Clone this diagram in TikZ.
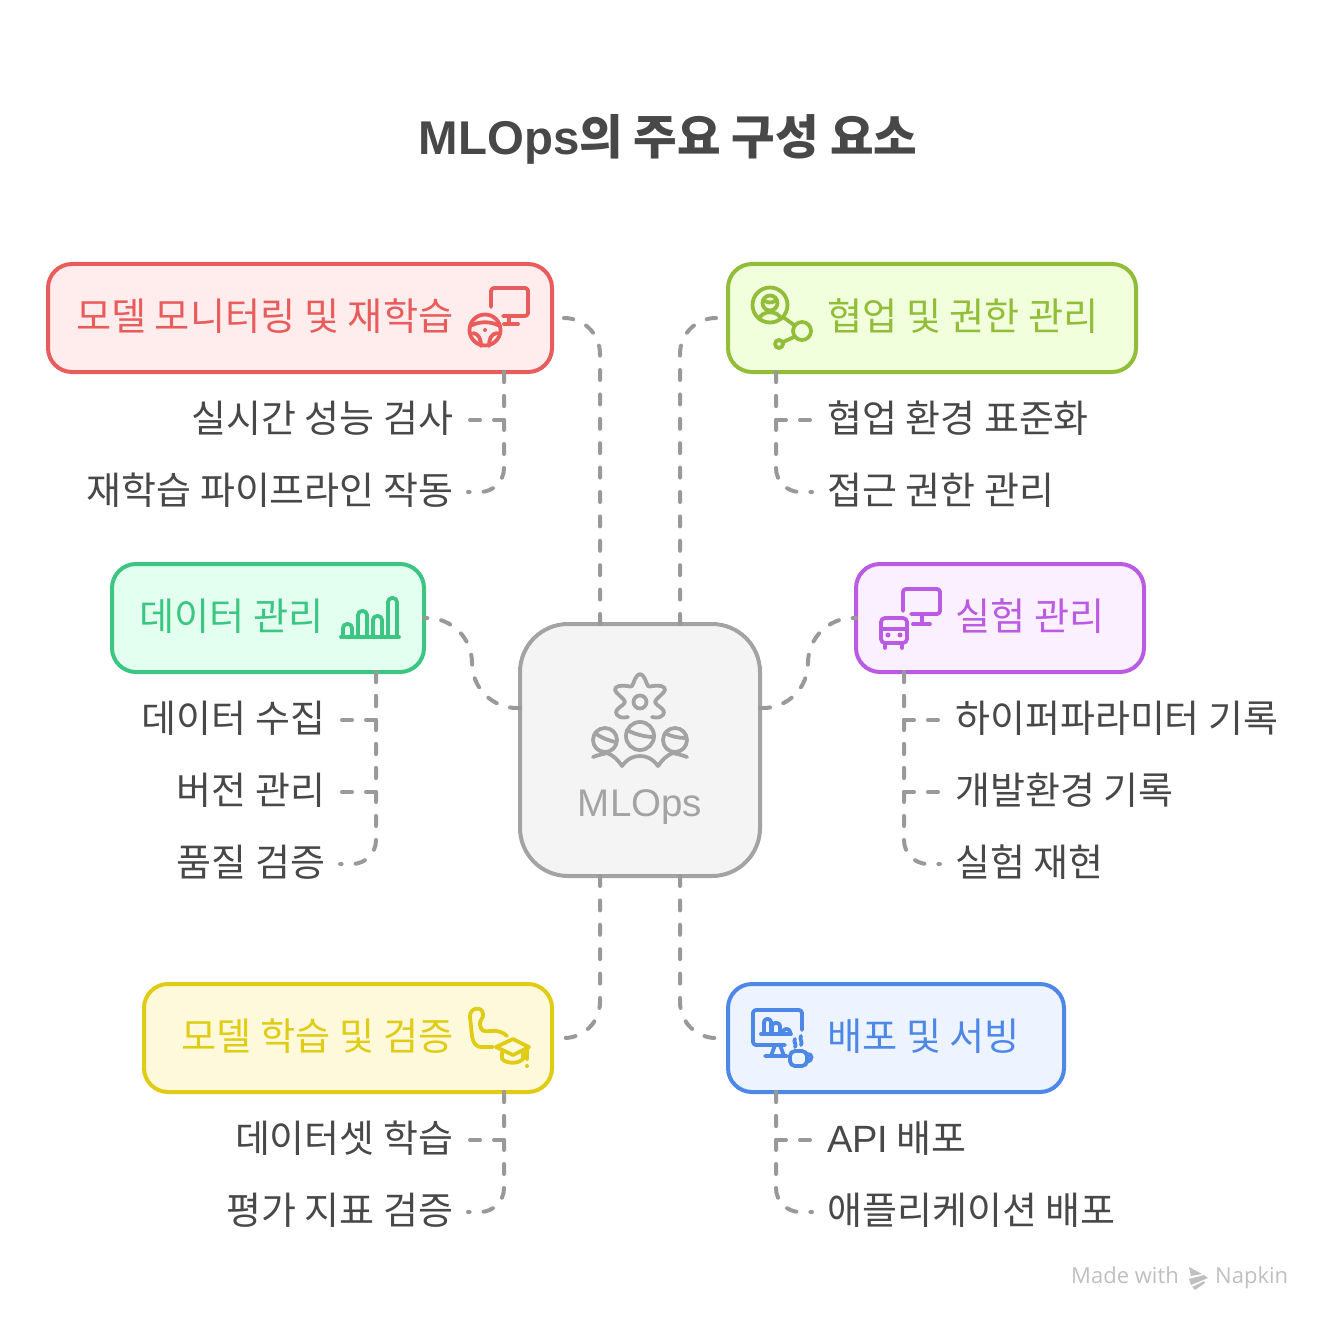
\documentclass[tikz,border=0pt]{standalone}
\usepackage{fontspec}
\usetikzlibrary{positioning,calc}
\setmainfont{Noto Sans CJK KR}
\newfontfamily\enfont{Liberation Sans}
\newfontfamily\footfont{Open Sans}
\definecolor{inkGrey}{HTML}{484848}
\definecolor{linkGrey}{HTML}{999999}
\definecolor{hubLine}{HTML}{A3A3A3}
\definecolor{hubFill}{HTML}{F4F4F4}
\definecolor{redLine}{HTML}{E85C5C}
\definecolor{redFill}{HTML}{FFEDED}
\definecolor{greenLine}{HTML}{92BD39}
\definecolor{greenFill}{HTML}{F2FFDD}
\definecolor{mintLine}{HTML}{3CC583}
\definecolor{mintFill}{HTML}{E3FFF0}
\definecolor{purpleLine}{HTML}{BB5BE3}
\definecolor{purpleFill}{HTML}{FBF0FF}
\definecolor{yellowLine}{HTML}{E0CB15}
\definecolor{yellowFill}{HTML}{FEF9DB}
\definecolor{blueLine}{HTML}{4E88E7}
\definecolor{blueFill}{HTML}{EDF3FF}

\begin{document}
\begin{tikzpicture}[x=1pt,y=-1pt]
\tikzstyle{block} = [rectangle, draw, line width=4pt, rounded corners=24pt, minimum height=108pt, outer sep=0pt, inner sep=0pt]
\tikzstyle{hub} = [block, draw=hubLine, fill=hubFill, rounded corners=48pt, minimum width=240pt, minimum height=252pt]
\tikzstyle{head} = [font=\fontsize{38.2}{44}\selectfont, inner sep=0pt, text height=30pt, text depth=4.5pt]
\tikzstyle{leaf} = [head, font=\fontsize{38}{44}\selectfont, text=inkGrey]
\tikzstyle{foot} = [font=\footfont\fontsize{22}{26}\selectfont, text=black!25, inner sep=0pt, anchor=west, text height=16pt, text depth=3pt]
\tikzstyle{link} = [draw=linkGrey, line width=4pt, line cap=round, dash pattern=on 10pt off 14pt]
\tikzstyle{mainlink} = [link, rounded corners=36pt, dash pattern=on 10pt off 14.4pt]
\tikzstyle{icon} = [line width=3.8pt, line cap=round, line join=round]
\useasboundingbox (0,0) rectangle (1336,1332);

\node [font=\bfseries\fontsize{47.4}{56}\selectfont, text=inkGrey, inner sep=0pt] (title) at (668,139) {{\enfont MLOps}의 주요 구성 요소};

% Center box
\node [hub] (hubBox) at (640,750) {};
\node [font=\enfont\fontsize{38.5}{44}\selectfont, text=hubLine, inner sep=0pt] (hubText) at (640,807) {MLOps};

% Outer boxes
\node [block, draw=redLine, fill=redFill, minimum width=504pt] (monitorBox) at (300,318) {};
\node [block, draw=greenLine, fill=greenFill, minimum width=408pt] (teamBox) at (932,318) {};
\node [block, draw=mintLine, fill=mintFill, minimum width=312pt] (dataBox) at (268,618) {};
\node [block, draw=purpleLine, fill=purpleFill, minimum width=288pt] (trialBox) at (1000,618) {};
\node [block, draw=yellowLine, fill=yellowFill, minimum width=408pt] (trainBox) at (348,1038) {};
\node [block, draw=blueLine, fill=blueFill, minimum width=336pt] (serveBox) at (896,1038) {};

\node [head, text=redLine, anchor=east] (monitorText) at ([xshift=-98.5pt]monitorBox.east) {모델 모니터링 및 재학습};
\node [head, text=greenLine, anchor=west] (teamText) at ([xshift=99pt]teamBox.west) {협업 및 권한 관리};
\node [head, text=mintLine, anchor=east] (dataText) at ([xshift=-100pt]dataBox.east) {데이터 관리};
\node [head, text=purpleLine, anchor=west] (trialText) at ([xshift=99pt]trialBox.west) {실험 관리};
\node [head, text=yellowLine, anchor=east] (trainText) at ([xshift=-98.5pt]trainBox.east) {모델 학습 및 검증};
\node [head, text=blueLine, anchor=west] (serveText) at ([xshift=99pt]serveBox.west) {배포 및 서빙};

% Leaves
\node [leaf, anchor=east] (liveCheck) at ([xshift=-98.5pt,yshift=-102pt]monitorBox.east) {실시간 성능 검사};
\node [leaf, anchor=east] (retrain) at ([yshift=-72pt]liveCheck.east) {재학습 파이프라인 작동};
\node [leaf, anchor=west] (teamEnv) at ([xshift=99pt,yshift=-102pt]teamBox.west) {협업 환경 표준화};
\node [leaf, anchor=west] (access) at ([yshift=-72pt]teamEnv.west) {접근 권한 관리};
\node [leaf, anchor=east] (collect) at ([xshift=-98.5pt,yshift=-102pt]dataBox.east) {데이터 수집};
\node [leaf, anchor=east] (version) at ([yshift=-72pt]collect.east) {버전 관리};
\node [leaf, anchor=east] (quality) at ([yshift=-72pt]version.east) {품질 검증};
\node [leaf, anchor=west] (hyper) at ([xshift=99pt,yshift=-102pt]trialBox.west) {하이퍼파라미터 기록};
\node [leaf, anchor=west] (devEnv) at ([yshift=-72pt]hyper.west) {개발환경 기록};
\node [leaf, anchor=west] (rerun) at ([yshift=-72pt]devEnv.west) {실험 재현};
\node [leaf, anchor=east] (dataset) at ([xshift=-98.5pt,yshift=-102pt]trainBox.east) {데이터셋 학습};
\node [leaf, anchor=east] (metric) at ([yshift=-72pt]dataset.east) {평가 지표 검증};
\node [leaf, anchor=west] (api) at ([xshift=99pt,yshift=-102pt]serveBox.west) {{\enfont API} 배포};
\node [leaf, anchor=west] (appServe) at ([yshift=-72pt]api.west) {애플리케이션 배포};

% Connections from the center
\draw [mainlink] ([xshift=-40pt]hubBox.north) |- ([xshift=12pt]monitorBox.east);
\draw [mainlink] ([xshift=40pt]hubBox.north) |- ([xshift=-12pt]teamBox.west);
\draw [link, rounded corners=45pt] ([yshift=42pt]hubBox.west) -- ++(-48,0) |- (dataBox.east);
\draw [link, rounded corners=45pt] ([yshift=42pt]hubBox.east) -- ++(48,0) |- (trialBox.west);
\draw [mainlink] ([xshift=-40pt]hubBox.south) |- ([xshift=12pt]trainBox.east);
\draw [mainlink] ([xshift=40pt]hubBox.south) |- ([xshift=-12pt]serveBox.west);

% Connections to the leaves
\draw [link] ([xshift=-48pt]monitorBox.south east) |- ([xshift=14.5pt]liveCheck.east);
\draw [link, rounded corners=24pt] ([xshift=-48pt]monitorBox.south east) |- ([xshift=14.5pt]retrain.east);
\draw [link] ([xshift=48pt]teamBox.south west) |- ([xshift=-15pt]teamEnv.west);
\draw [link, rounded corners=24pt] ([xshift=48pt]teamBox.south west) |- ([xshift=-15pt]access.west);
\draw [link] ([xshift=-48pt]dataBox.south east) |- ([xshift=14.5pt]collect.east);
\draw [link] ([xshift=-48pt]dataBox.south east) |- ([xshift=14.5pt]version.east);
\draw [link, rounded corners=24pt] ([xshift=-48pt]dataBox.south east) |- ([xshift=14.5pt]quality.east);
\draw [link] ([xshift=48pt]trialBox.south west) |- ([xshift=-15pt]hyper.west);
\draw [link] ([xshift=48pt]trialBox.south west) |- ([xshift=-15pt]devEnv.west);
\draw [link, rounded corners=24pt] ([xshift=48pt]trialBox.south west) |- ([xshift=-15pt]rerun.west);
\draw [link] ([xshift=-48pt]trainBox.south east) |- ([xshift=14.5pt]dataset.east);
\draw [link, rounded corners=24pt] ([xshift=-48pt]trainBox.south east) |- ([xshift=14.5pt]metric.east);
\draw [link] ([xshift=48pt]serveBox.south west) |- ([xshift=-15pt]api.west);
\draw [link, rounded corners=24pt] ([xshift=48pt]serveBox.south west) |- ([xshift=-15pt]appServe.west);

% Center icon
\begin{scope}[icon, draw=hubLine]
\draw (640,702) circle (6.5);
\draw plot [smooth, tension=.8] coordinates {(628,717) (620,717) (616,712) (620,707) (625,702) (620,696) (615,690) (619,686) (627,686) (632,686) (635,679) (640,674) (645,679) (648,686) (653,686) (661,686) (665,690) (660,696) (655,702) (660,707) (664,712) (660,717) (652,717)};
\draw (640,736) circle (14);
\draw (605,740) circle (12);
\draw (675,740) circle (12);
\draw (627,730) .. controls (634,734) and (645,737) .. (654,737);
\draw (595,733) .. controls (600,737) and (607,740) .. (615,742);
\draw (665,733) .. controls (670,736) and (678,738) .. (685,738);
\draw (593,757) .. controls (598,755) and (603,754) .. (607,753) .. controls (613,755) and (618,760) .. (622,766) .. controls (628,758) and (634,756) .. (640,756) .. controls (646,756) and (652,758) .. (658,766) .. controls (662,760) and (667,755) .. (673,753) .. controls (677,754) and (682,755) .. (687,757);
\end{scope}

% Icon of the red box
\begin{scope}[icon, draw=redLine]
\draw [rounded corners=3pt] (491,307) -- (491,288) -- (528,288) -- (528,316) -- (503,316);
\draw (509,316) -- (509,324) (504,324) -- (518,324);
\draw (485,330) circle (15.5);
\draw (470,326) .. controls (480,321) and (490,321) .. (500,326);
\draw (473,333) .. controls (479,334) and (481,339) .. (481,346);
\draw (497,333) .. controls (491,334) and (489,339) .. (489,346);
\fill [redLine] (485,330) circle (2);
\end{scope}

% Icon of the green box
\begin{scope}[icon, draw=greenLine]
\draw (770,305) circle (17.5);
\draw (770,303) circle (7.5);
\draw (765,301) .. controls (768,303) and (772,303) .. (775,301);
\draw (759,319) .. controls (762,310) and (778,310) .. (781,319);
\draw (783,317) -- (794,325);
\draw (802,331) circle (9);
\draw (794,337) -- (783,342);
\draw (779,344) circle (4);
\end{scope}

% Icon of the mint box
\begin{scope}[icon, draw=mintLine]
\draw (341,637) -- (399,637);
\draw [rounded corners=4pt] (343,637) -- (343,624) -- (352,624) -- (352,637);
\draw [rounded corners=4pt] (358,637) -- (358,611) -- (367,611) -- (367,637);
\draw [rounded corners=4pt] (373,637) -- (373,616) -- (382,616) -- (382,637);
\draw [rounded corners=4pt] (388,637) -- (388,598) -- (397,598) -- (397,637);
\end{scope}

% Icon of the purple box
\begin{scope}[icon, draw=purpleLine]
\draw [rounded corners=3pt] (903,611) -- (903,589) -- (940,589) -- (940,614) -- (911,614);
\draw (922,614) -- (922,624) (913,624) -- (930,624);
\draw [rounded corners=4pt] (881,618) rectangle (907,643);
\draw (881,629) -- (907,629);
\draw (885,643) -- (885,648) (902,643) -- (902,648);
\fill [purpleLine] (888,635) circle (2.5) (900,635) circle (2.5);
\end{scope}

% Icon of the yellow box
\begin{scope}[icon, draw=yellowLine]
\draw (493,1047) -- (482,1047) .. controls (475,1047) and (473,1042) .. (472,1036) -- (470,1017) .. controls (469,1007) and (483,1006) .. (483,1014) .. controls (484,1018) and (479,1020) .. (480,1025) .. controls (481,1031) and (484,1032) .. (490,1031) .. controls (497,1030) and (503,1032) .. (507,1036);
\draw (513,1039) -- (529,1047) -- (513,1055) -- (496,1047) -- cycle;
\draw (502,1052) -- (502,1059) .. controls (507,1064) and (518,1064) .. (523,1059) -- (523,1052);
\draw (527,1049) -- (527,1059);
\fill [yellowLine] (527,1066) circle (2);
\end{scope}

% Icon of the blue box
\begin{scope}[icon, draw=blueLine]
\draw [rounded corners=3pt] (785,1045) -- (753,1045) -- (753,1010) -- (802,1010) -- (802,1030);
\draw (761,1034) -- (791,1034);
\draw [rounded corners=3pt] (764,1034) -- (764,1019) -- (771,1019) -- (771,1034);
\draw [rounded corners=3pt] (772,1034) -- (772,1023) -- (780,1023) -- (780,1034);
\draw [rounded corners=3pt] (783,1034) -- (783,1029) -- (790,1029) -- (790,1034);
\draw (775,1045) -- (771,1056) (780,1045) -- (784,1056) (765,1056) -- (787,1056);
\draw [rounded corners=5pt] (790,1051) -- (807,1051) -- (807,1066) -- (790,1066) -- cycle;
\draw (807,1054) .. controls (813,1053) and (813,1061) .. (807,1062);
\draw (795,1039) .. controls (793,1042) and (797,1044) .. (795,1047);
\draw (801,1036) .. controls (799,1039) and (803,1042) .. (801,1045);
\end{scope}

% Footer
\node [foot] (madeWith) at (1071,1277) {Made with};
\node [foot] (napkin) at (1215,1277) {Napkin};
\fill [black!25] (1189,1267) -- (1202,1274) -- (1191,1276) -- cycle (1189,1279) -- (1204,1275) -- (1208,1278) -- (1191,1285) -- cycle (1192,1287) -- (1204,1281) -- (1205,1283) -- (1195,1290) -- cycle;
\end{tikzpicture}
\end{document}
